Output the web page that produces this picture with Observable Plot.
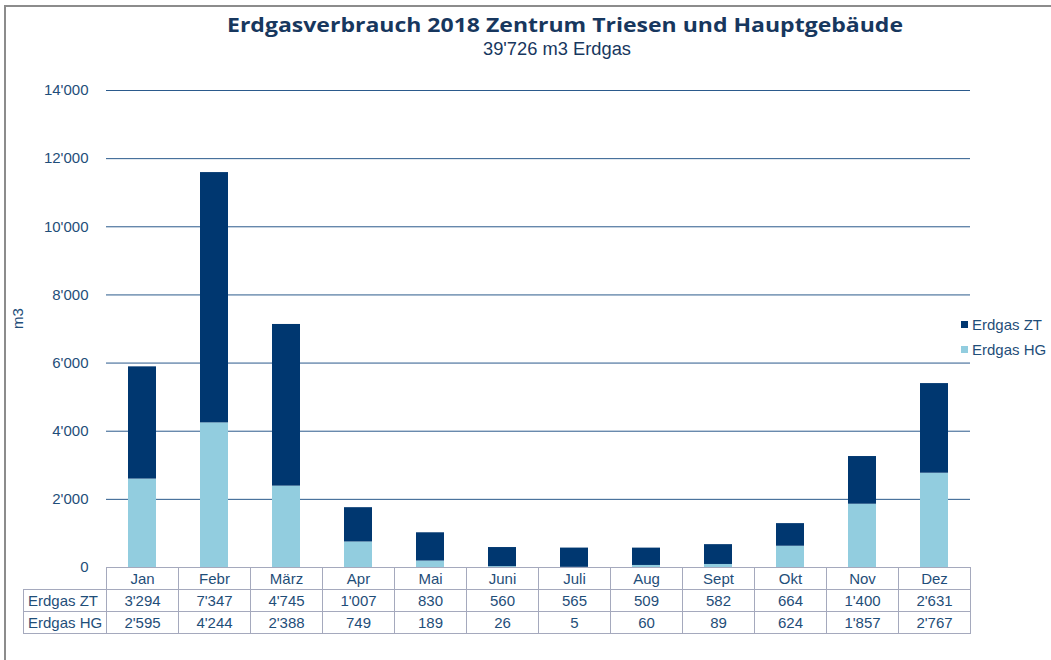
<!DOCTYPE html>
<html>
<head>
<meta charset="utf-8">
<script src="https://cdn.jsdelivr.net/npm/d3@7"></script>
<script src="https://cdn.jsdelivr.net/npm/@observablehq/plot@0.6"></script>
<style>
  html, body { margin: 0; padding: 0; background: #fff; overflow: hidden; }
  #wrap { position: relative; width: 1051px; height: 660px; overflow: hidden; font-family: "Liberation Sans", Arial, sans-serif; color: #1f4e79; }
  #frame { position: absolute; left: 4px; top: 5px; width: 1200px; height: 800px; border: 2px solid #8c8c8c; box-sizing: border-box; }
  #chart { position: absolute; left: 0; top: 0; }
  #titles { position: absolute; left: 0; top: 0; }
  .legend { position: absolute; font-size: 15px; line-height: 15px; white-space: nowrap; }
  .legend i { display: inline-block; width: 7px; height: 7px; margin-right: 4px; vertical-align: 2px; }
  table.dt { position: absolute; left: 23px; top: 567px; border-collapse: collapse; table-layout: fixed; font-size: 15px; }
  table.dt td { border: 1px solid #a5a9bd; height: 21px; padding: 0; text-align: center; color: #1f4e79; overflow: hidden; white-space: nowrap; }
  table.dt td.lab { text-align: left; padding-left: 4px; }
  table.dt td.empty { border: none; }
</style>
</head>
<body>
<div id="wrap">
  <div id="frame"></div>
  <div id="chart"></div>
  <svg id="titles" width="1051" height="70"></svg>
</div>
<script>
const months = ["Jan","Febr","März","Apr","Mai","Juni","Juli","Aug","Sept","Okt","Nov","Dez"];
const erdgasZT = [3294,7347,4745,1007,830,560,565,509,582,664,1400,2631];
const erdgasHG = [2595,4244,2388,749,189,26,5,60,89,624,1857,2767];
const seriesNames = ["Erdgas ZT","Erdgas HG"];
const seriesColors = ["#003770","#92cddf"];
const yTicks = [0,2000,4000,6000,8000,10000,12000,14000];
const titleText = "Erdgasverbrauch 2018 Zentrum Triesen und Hauptgebäude";
const subtitleText = "39'726 m3 Erdgas";
const yLabel = "m3";

const locale = d3.formatLocale({decimal: ".", thousands: "'", grouping: [3], currency: ["", ""]});
const fmt = locale.format(",d");

const data = [];
months.forEach((m, i) => {
  data.push({month: m, series: "Erdgas HG", value: erdgasHG[i]});
  data.push({month: m, series: "Erdgas ZT", value: erdgasZT[i]});
});

const navy = "#1f4e79";

const plot = Plot.plot({
  width: 1051,
  height: 660,
  marginLeft: 106,
  marginRight: 81,
  marginTop: 90,
  marginBottom: 93,
  style: {fontFamily: "'Liberation Sans', Arial, sans-serif", fontSize: "15px", color: navy, background: "transparent", overflow: "visible"},
  x: {domain: months, paddingInner: 0.61, paddingOuter: 0.305, axis: null},
  y: {domain: [0, 14000], axis: null},
  color: {domain: seriesNames, range: seriesColors},
  marks: [
    Plot.ruleY(yTicks.filter(d => d > 0), {stroke: "#2b5a8c", strokeWidth: 1}),
    Plot.barY(data, {x: "month", y: "value", fill: "series", order: ["Erdgas HG", "Erdgas ZT"]}),
    Plot.axisY({ticks: yTicks, tickFormat: fmt, tickSize: 0, tickPadding: 18, label: null, fill: navy, fontSize: 15}),
    Plot.text([yLabel], {frameAnchor: "left", dx: -88, rotate: -90, fill: navy, fontSize: 15})
  ]
});
document.getElementById("chart").appendChild(plot);

// Titles
const ts = d3.select("#titles");
ts.append("text")
  .attr("x", 565).attr("y", 32)
  .attr("text-anchor", "middle")
  .attr("font-family", "'Open Sans', sans-serif")
  .attr("font-weight", "bold")
  .attr("font-size", 20)
  .attr("fill", "#17375e")
  .attr("textLength", 676)
  .attr("lengthAdjust", "spacingAndGlyphs")
  .text(titleText);
ts.append("text")
  .attr("x", 557).attr("y", 55)
  .attr("text-anchor", "middle")
  .attr("font-family", "'Liberation Sans', Arial, sans-serif")
  .attr("font-size", 18)
  .attr("fill", "#17375e")
  .attr("textLength", 148)
  .attr("lengthAdjust", "spacingAndGlyphs")
  .text(subtitleText);

// Legend
const wrap = d3.select("#wrap");
const legendY = [317, 342];
seriesNames.forEach((s, i) => {
  const d = wrap.append("div").attr("class", "legend")
    .style("left", "961px").style("top", legendY[i] + "px");
  d.append("i").style("background", seriesColors[i]);
  d.append("span").text(s);
});

// Data table
const table = wrap.append("table").attr("class", "dt");
const cg = table.append("colgroup");
cg.append("col").style("width", "83px");
months.forEach(() => cg.append("col").style("width", "72px"));
const r0 = table.append("tr");
r0.append("td").attr("class", "empty");
months.forEach(m => r0.append("td").text(m));
[["Erdgas ZT", erdgasZT], ["Erdgas HG", erdgasHG]].forEach(([name, vals]) => {
  const r = table.append("tr");
  r.append("td").attr("class", "lab").text(name);
  vals.forEach(v => r.append("td").text(fmt(v)));
});
</script>
</body>
</html>
